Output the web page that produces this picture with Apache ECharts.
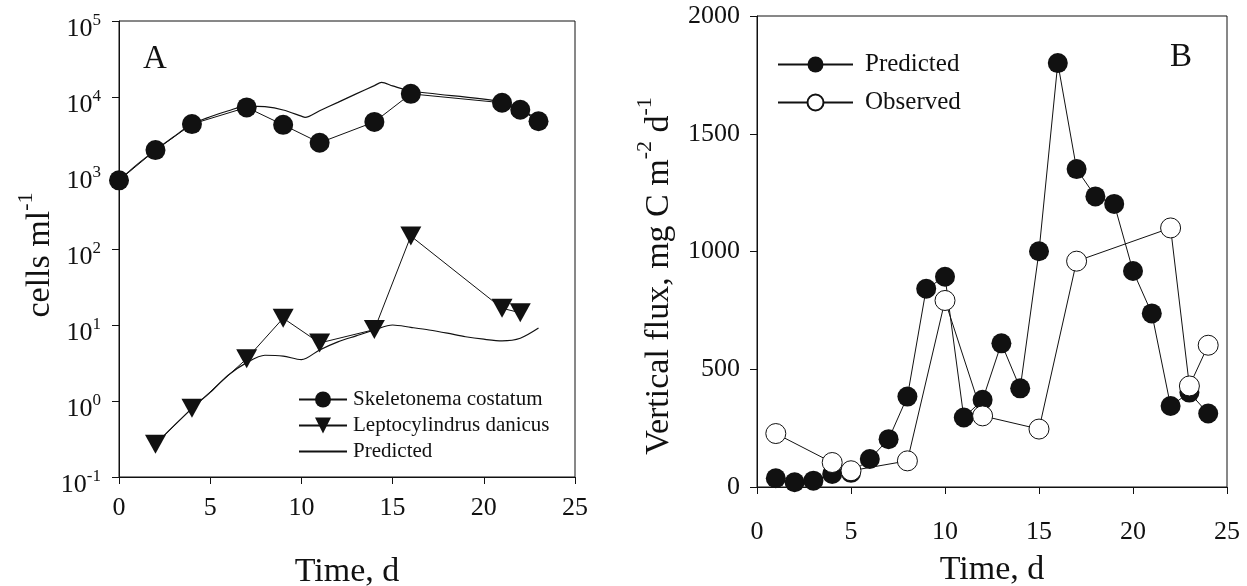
<!DOCTYPE html>
<html>
<head>
<meta charset="utf-8">
<script src="https://cdn.jsdelivr.net/npm/echarts@6/dist/echarts.min.js"></script>
<style>
html,body{margin:0;padding:0;background:#fff;}
#chart{width:1247px;height:586px;}
</style>
</head>
<body>
<div id="chart"></div>
<script>
// ---- Panel A data (cells per ml, log scale) ----
const daysSkeletonema = [0, 2, 4, 7, 9, 11, 14, 16, 21, 22, 23];
const skeletonema = [800, 2000, 4400, 7300, 4300, 2500, 4700, 11000, 8400, 6800, 4800];
const daysLepto = [2, 4, 7, 9, 11, 14, 16, 21, 22];
const leptocylindrus = [0.27, 0.8, 3.6, 12.3, 5.8, 8.7, 148, 16.6, 14.5];
const predDaysS = [0, 1, 2, 3, 4, 5, 6, 7, 8, 9, 10, 10.2, 11, 12, 13, 14, 14.4, 15, 16, 21, 22, 23];
const predS = [800, 1300, 2000, 3000, 4400, 5500, 6600, 7600, 7450, 6750, 5600, 5400, 6600, 8500, 11000, 14100, 15600, 14000, 12000, 8700, 6900, 5000];
const predDaysL = [2, 3, 4, 5, 6, 7, 8, 9, 10, 11, 12, 13, 14, 15, 16, 17, 18, 19, 20, 21, 22, 23];
const predL = [0.27, 0.47, 0.8, 1.3, 2.2, 3.2, 4.0, 3.9, 3.5, 4.7, 6.0, 7.2, 8.6, 10, 9.3, 8.6, 7.8, 7.0, 6.5, 6.2, 6.7, 9.1];

// ---- Panel B data (vertical flux) ----
const daysPredB = [1, 2, 3, 4, 5, 6, 7, 8, 9, 10, 11, 12, 13, 14, 15, 16, 17, 18, 19, 20, 21, 22, 23, 24];
const predictedB = [37, 20, 27, 55, 60, 119, 203, 384, 842, 893, 295, 370, 610, 419, 1001, 1800, 1350, 1234, 1202, 917, 737, 344, 401, 312];
const daysObsB = [1, 4, 5, 8, 10, 12, 15, 17, 22, 23, 24];
const observedB = [227, 104, 69, 111, 792, 302, 246, 959, 1100, 429, 602];

// ---- Tick labels ----
const xTicks = [0, 5, 10, 15, 20, 25];
const yTicksB = [0, 500, 1000, 1500, 2000];

const pairs = (xs, ys) => xs.map((x, i) => [x, ys[i]]);
const FONT = '"Liberation Serif","DejaVu Serif",serif';
const BLACK = '#111';

const axisCommon = {
  axisLine: { show: true, lineStyle: { color: BLACK, width: 1 } },
  axisTick: { show: true, inside: false, length: 7, lineStyle: { color: BLACK, width: 1 } },
  splitLine: { show: false },
  axisLabel: { fontFamily: FONT, fontSize: 26, color: BLACK, formatter: v => String(v) },
};

const titleRich = {
  n: { fontFamily: FONT, fontSize: 34, lineHeight: 42, verticalAlign: 'bottom', fill: BLACK, color: BLACK },
  s: { fontFamily: FONT, fontSize: 22, lineHeight: 22, verticalAlign: 'top', fill: BLACK, color: BLACK }
};

const chart = echarts.init(document.getElementById('chart'), null, { renderer: 'canvas' });

const option = {
  animation: false,
  backgroundColor: '#fff',
  grid: [
    { left: 119, top: 21, width: 456, height: 456, outerBoundsMode: 'none', containLabel: false, show: true, borderColor: BLACK, borderWidth: 1, backgroundColor: 'transparent' },
    { left: 757, top: 16, width: 470, height: 471, outerBoundsMode: 'none', containLabel: false, show: true, borderColor: BLACK, borderWidth: 1, backgroundColor: 'transparent' }
  ],
  xAxis: [
    Object.assign({}, axisCommon, {
      gridIndex: 0, type: 'value', min: xTicks[0], max: xTicks[xTicks.length - 1], interval: 5,
      axisLabel: Object.assign({}, axisCommon.axisLabel, { margin: 18 }),
      name: 'Time, d', nameLocation: 'middle', nameGap: 78,
      nameTextStyle: { fontFamily: FONT, fontSize: 34, color: BLACK }
    }),
    Object.assign({}, axisCommon, {
      gridIndex: 1, type: 'value', min: xTicks[0], max: xTicks[xTicks.length - 1], interval: 5,
      axisLabel: Object.assign({}, axisCommon.axisLabel, { margin: 32 }),
      name: 'Time, d', nameLocation: 'middle', nameGap: 66,
      nameTextStyle: { fontFamily: FONT, fontSize: 34, color: BLACK }
    })
  ],
  yAxis: [
    Object.assign({}, axisCommon, {
      gridIndex: 0, type: 'log', logBase: 10, min: 0.1, max: 100000, splitNumber: 6,
      axisLabel: {
        margin: 18, color: BLACK, padding: [12, 0, 0, 0],
        formatter: v => '{b|10}{s|' + Math.round(Math.log10(v)) + '}',
        rich: {
          b: { fontFamily: FONT, fontSize: 26, lineHeight: 30, verticalAlign: 'bottom', color: BLACK },
          s: { fontFamily: FONT, fontSize: 17, lineHeight: 20, verticalAlign: 'top', color: BLACK }
        }
      }
    }),
    Object.assign({}, axisCommon, {
      gridIndex: 1, type: 'value', min: yTicksB[0], max: yTicksB[yTicksB.length - 1], interval: 500,
      axisLabel: Object.assign({}, axisCommon.axisLabel, { margin: 17 })
    })
  ],
  legend: [
    {
      left: 293, top: 384, orient: 'vertical',
      itemWidth: 48, itemHeight: 20, itemGap: 5,
      data: [
        'Skeletonema costatum',
        'Leptocylindrus danicus',
        { name: 'Predicted', itemStyle: { opacity: 0 } }
      ],
      textStyle: { fontFamily: FONT, fontSize: 21, color: BLACK, padding: [0, 0, 0, 1] }
    },
    {
      left: 772, top: 47, orient: 'vertical',
      itemWidth: 75, itemHeight: 20, itemGap: 13,
      data: ['Predicted ', 'Observed'],
      formatter: n => n.trim(),
      textStyle: { fontFamily: FONT, fontSize: 25, color: BLACK, padding: [0, 0, 0, 7] }
    }
  ],
  graphic: [
    { type: 'text', left: 143, top: 43, style: { text: 'A', font: '33px ' + FONT, fill: BLACK } },
    { type: 'text', left: 1170, top: 41, style: { text: 'B', font: '33px ' + FONT, fill: BLACK } },
    {
      type: 'text', x: 36, y: 255, rotation: Math.PI / 2,
      style: { text: '{n|cells ml}{s|-1}', align: 'center', verticalAlign: 'middle', rich: titleRich, fill: BLACK }
    },
    {
      type: 'text', x: 655, y: 276, rotation: Math.PI / 2,
      style: { text: '{n|Vertical flux, mg C m}{s|-2}{n| d}{s|-1}', align: 'center', verticalAlign: 'middle', rich: titleRich, fill: BLACK }
    }
  ],
  series: [
    {
      name: 'Predicted', type: 'line', xAxisIndex: 0, yAxisIndex: 0,
      data: pairs(predDaysS, predS), smooth: 0.3, symbol: 'none', showSymbol: false,
      lineStyle: { color: BLACK, width: 1.2 }, itemStyle: { color: BLACK }, z: 2
    },
    {
      name: 'Predicted', type: 'line', xAxisIndex: 0, yAxisIndex: 0,
      data: pairs(predDaysL, predL), smooth: 0.3, symbol: 'none', showSymbol: false,
      lineStyle: { color: BLACK, width: 1.2 }, itemStyle: { color: BLACK }, z: 2
    },
    {
      name: 'Skeletonema costatum', type: 'line', xAxisIndex: 0, yAxisIndex: 0,
      data: pairs(daysSkeletonema, skeletonema), symbol: 'circle', symbolSize: 20,
      lineStyle: { color: BLACK, width: 1 }, itemStyle: { color: BLACK }, z: 3
    },
    {
      name: 'Leptocylindrus danicus', type: 'line', xAxisIndex: 0, yAxisIndex: 0,
      data: pairs(daysLepto, leptocylindrus), symbol: 'triangle', symbolRotate: 180, symbolSize: [21, 19],
      lineStyle: { color: BLACK, width: 1 }, itemStyle: { color: BLACK }, z: 3
    },
    {
      name: 'Predicted ', type: 'line', xAxisIndex: 1, yAxisIndex: 1,
      data: pairs(daysPredB, predictedB), symbol: 'circle', symbolSize: 20,
      lineStyle: { color: BLACK, width: 1 }, itemStyle: { color: BLACK }, z: 3
    },
    {
      name: 'Observed', type: 'line', xAxisIndex: 1, yAxisIndex: 1,
      data: pairs(daysObsB, observedB), symbol: 'circle', symbolSize: 20,
      lineStyle: { color: BLACK, width: 1 }, itemStyle: { color: '#fff', borderColor: BLACK, borderWidth: 1 }, z: 4
    }
  ]
};
chart.setOption(option);
</script>
</body>
</html>
